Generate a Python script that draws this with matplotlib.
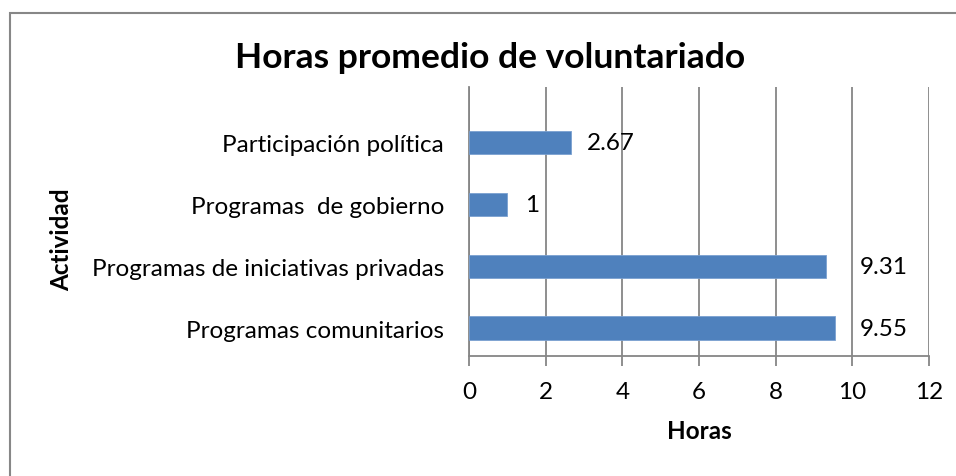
import matplotlib
matplotlib.use("Agg")
import matplotlib.pyplot as plt
from matplotlib.patches import Rectangle

# data (bottom to top)
actividades = ["Programas comunitarios", "Programas de iniciativas privadas",
               "Programas  de gobierno", "Participación política"]
horas = [9.55, 9.31, 1, 2.67]
etiquetas = ["9.55", "9.31", "1", "2.67"]
label_pad = [18, 24.5, 13, 11.5]  # offset of value labels, points

plt.rcParams['font.family'] = ['Lato', 'DejaVu Sans']
fs = 17.5

fig = plt.figure(figsize=(9.56, 4.77), dpi=100)
fig.patches.append(Rectangle((10/956, -0.05), 1.1, 1 - 14/477 + 0.05,
                             transform=fig.transFigure, fill=False,
                             edgecolor='#878787', linewidth=1.5))

ax = fig.add_axes([469/956, 1 - 357/477, 460/956, 269/477])
y = range(len(actividades))
ax.barh(y, horas, height=0.38, color='#4F81BD', edgecolor='#7AA0D0', linewidth=0.6, zorder=3)

for i, v in enumerate(horas):
    ax.annotate(etiquetas[i], (v, i), xytext=(label_pad[i], 0), textcoords='offset points',
                ha='left', va='center', fontsize=fs, color='black', zorder=4)

ax.set_xlim(0, 12)
ax.set_ylim(-0.45, 3.9)
ax.set_xticks(range(0, 13, 2))
ax.set_yticks(list(y))
ax.set_yticklabels(actividades)
ax.grid(axis='x', color='#868686', linewidth=1.3, zorder=0)
ax.tick_params(axis='x', length=7, width=1.3, color='#868686', labelsize=fs, pad=11)
ax.tick_params(axis='y', length=0, labelsize=fs, pad=18)
for s in ['top', 'right']:
    ax.spines[s].set_visible(False)
for s in ['left', 'bottom']:
    ax.spines[s].set_color('#868686')
    ax.spines[s].set_linewidth(1.3)

ax.set_xlabel("Horas", fontsize=fs, fontweight='bold', labelpad=12)
fig.text(0.065, 0.497, "Actividad", rotation=90, fontsize=fs, fontweight='bold',
         ha='center', va='center')
fig.text(0.513, 0.878, "Horas promedio de voluntariado", fontsize=25.5, fontweight='bold',
         ha='center', va='center')

fig.savefig("out.png", dpi=100)
